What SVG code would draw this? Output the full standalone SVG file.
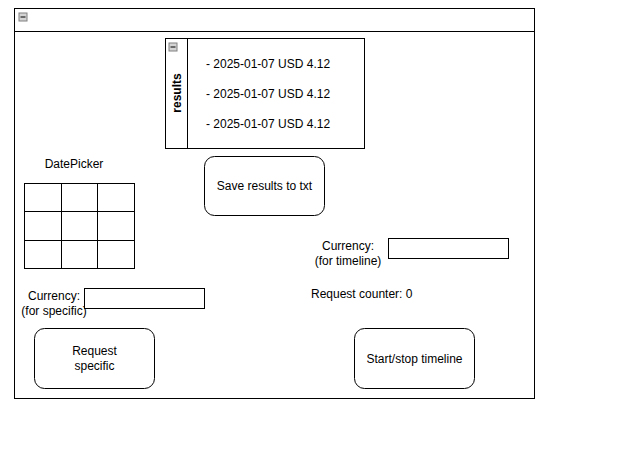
<svg xmlns="http://www.w3.org/2000/svg" width="639" height="453" viewBox="0 0 639 453">
<defs>
<style>
.box{fill:#fff;stroke:#000;stroke-width:1}
.btn{fill:#fff;stroke:#000;stroke-width:1}
.t{font-family:"Liberation Sans",Arial,sans-serif;font-size:12px;fill:#000}
.c{text-anchor:middle}
.ico{fill:#d4d4d4;stroke:#808080;stroke-width:1}
.icl{stroke:#000;stroke-width:1}
</style>
<g id="collapse">
<rect class="ico" x="0.5" y="0.5" width="8" height="8"/>
<line class="icl" x1="2" y1="4.5" x2="7" y2="4.5"/>
</g>
</defs>
<rect width="639" height="453" fill="#fff"/>
<g id="container">
<rect class="box" x="14.5" y="8.5" width="520" height="390"/>
<line x1="14.5" y1="31.5" x2="534.5" y2="31.5" stroke="#000"/>
<use href="#collapse" x="18.5" y="12.5"/>
</g>
<g id="results">
<rect class="box" x="165.5" y="38.5" width="199" height="110"/>
<line x1="187.5" y1="38.5" x2="187.5" y2="148.5" stroke="#000"/>
<use href="#collapse" x="168.5" y="42.5"/>
<text class="t c" font-weight="bold" transform="translate(181,93) rotate(-90)">results</text>
<text class="t" x="206" y="68">- 2025-01-07 USD 4.12</text>
<text class="t" x="206" y="98">- 2025-01-07 USD 4.12</text>
<text class="t" x="206" y="128">- 2025-01-07 USD 4.12</text>
</g>
<g id="save">
<rect class="btn" x="204.5" y="156.5" width="120" height="59" rx="10" ry="10"/>
<text class="t c" x="264.5" y="190">Save results to txt</text>
</g>
<g id="datepicker">
<text class="t c" x="74" y="168">DatePicker</text>
<rect class="box" x="24.5" y="183.5" width="110" height="85"/>
<line x1="61.5" y1="183.5" x2="61.5" y2="268.5" stroke="#000"/>
<line x1="97.5" y1="183.5" x2="97.5" y2="268.5" stroke="#000"/>
<line x1="24.5" y1="211.5" x2="134.5" y2="211.5" stroke="#000"/>
<line x1="24.5" y1="240.5" x2="134.5" y2="240.5" stroke="#000"/>
</g>
<g id="currency-specific">
<text class="t c" x="54" y="300">Currency:</text>
<text class="t c" x="54" y="315">(for specific)</text>
<rect class="box" x="84.5" y="288.5" width="120" height="20"/>
</g>
<g id="request-specific">
<rect class="btn" x="34.5" y="328.5" width="120" height="60" rx="10" ry="10"/>
<text class="t c" x="94.5" y="355">Request</text>
<text class="t c" x="94.5" y="370">specific</text>
</g>
<g id="currency-timeline">
<text class="t c" x="348" y="250">Currency:</text>
<text class="t c" x="348" y="265">(for timeline)</text>
<rect class="box" x="388.5" y="238.5" width="120" height="20"/>
</g>
<g id="counter">
<text class="t" x="311" y="298">Request counter: 0</text>
</g>
<g id="timeline">
<rect class="btn" x="354.5" y="328.5" width="120" height="60" rx="10" ry="10"/>
<text class="t c" x="414.5" y="363">Start/stop timeline</text>
</g>
<g id="connectors"></g>
</svg>
